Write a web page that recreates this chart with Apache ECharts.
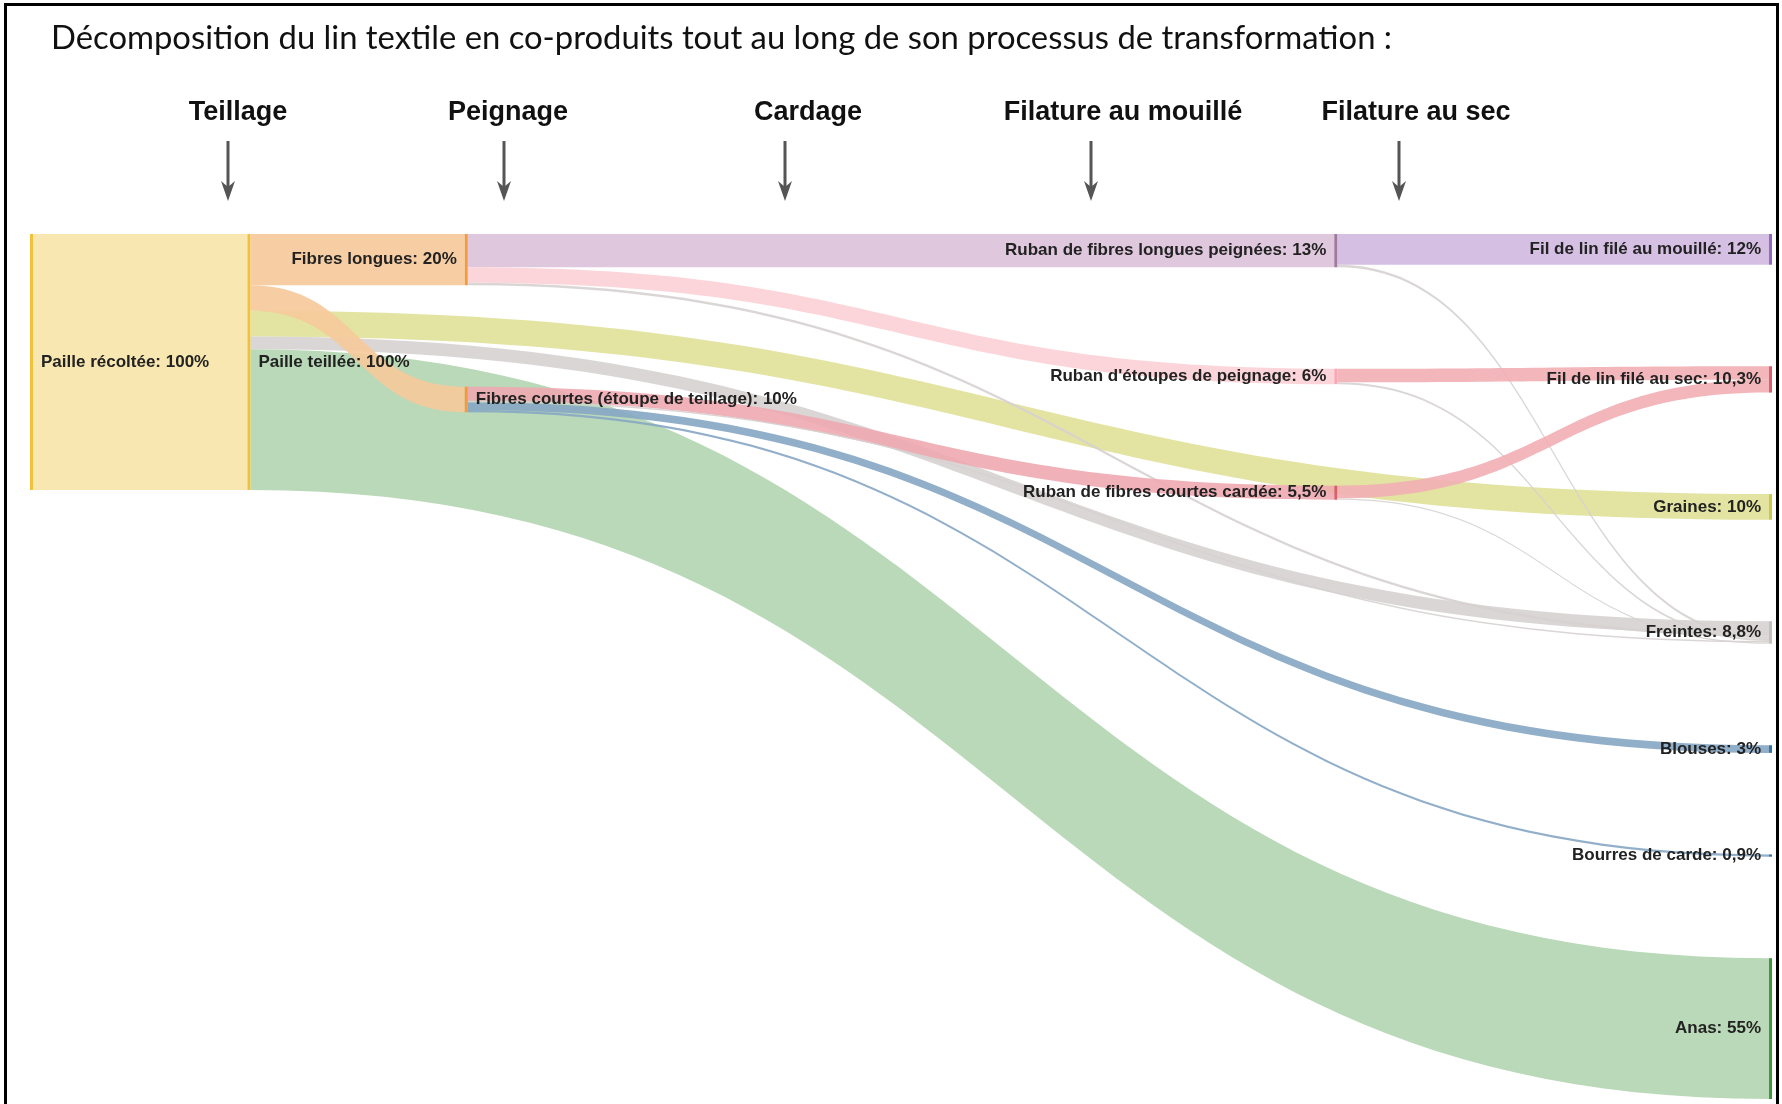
<!DOCTYPE html>
<html>
<head>
<meta charset="utf-8">
<script src="https://cdn.jsdelivr.net/npm/echarts@6/dist/echarts.min.js"></script>
<style>
  html, body { margin: 0; padding: 0; background: #fff; }
  #main { width: 1782px; height: 1104px; }
</style>
</head>
<body>
<div id="main"></div>
<script>
// noeuds du sankey (colonne = etape du processus)
var nodeNames = [
  'Paille récoltée', 'Paille teillée', 'Fibres longues',
  'Fibres courtes (étoupe de teillage)', 'Ruban de fibres longues peignées',
  "Ruban d'étoupes de peignage", 'Ruban de fibres courtes cardée',
  'Fil de lin filé au mouillé', 'Fil de lin filé au sec', 'Graines',
  'Freintes', 'Blouses', 'Bourres de carde', 'Anas'
];
var nodeValues = [100, 100, 20, 10, 13, 6, 5.5, 12, 10.3, 10, 8.8, 3, 0.9, 55];
var nodeDepths = [0, 1, 2, 2, 6, 6, 6, 8, 8, 8, 8, 8, 8, 8];

// flux (en % de la paille recoltee)
var linkSources = [
  'Paille récoltée',
  'Paille teillée', 'Paille teillée', 'Paille teillée', 'Paille teillée',
  'Fibres longues', 'Fibres longues', 'Fibres longues',
  'Fibres courtes (étoupe de teillage)', 'Fibres courtes (étoupe de teillage)',
  'Fibres courtes (étoupe de teillage)', 'Fibres courtes (étoupe de teillage)',
  'Ruban de fibres longues peignées', 'Ruban de fibres longues peignées',
  "Ruban d'étoupes de peignage", "Ruban d'étoupes de peignage",
  'Ruban de fibres courtes cardée', 'Ruban de fibres courtes cardée',
  'Paille teillée'
];
var linkTargets = [
  'Paille teillée',
  'Fibres longues', 'Graines', 'Freintes', 'Anas',
  'Ruban de fibres longues peignées', "Ruban d'étoupes de peignage", 'Freintes',
  'Ruban de fibres courtes cardée', 'Blouses', 'Bourres de carde', 'Freintes',
  'Fil de lin filé au mouillé', 'Freintes',
  'Fil de lin filé au sec', 'Freintes',
  'Fil de lin filé au sec', 'Freintes',
  'Fibres courtes (étoupe de teillage)'
];
var linkValues = [100, 20, 10, 5, 55, 13, 6, 1, 5.5, 3, 0.9, 0.6, 12, 1, 5.3, 0.7, 5, 0.5, 10];

var stages = ['Teillage', 'Peignage', 'Cardage', 'Filature au mouillé', 'Filature au sec'];

// styles
var stageX = [238, 508, 808, 1123, 1416];
var arrowX = [228, 504, 785, 1091, 1399];
var nodeColor = {
  'Paille récoltée': '#f0c23c', 'Paille teillée': '#f0c23c',
  'Fibres longues': '#f39a3c', 'Fibres courtes (étoupe de teillage)': '#f39a3c',
  'Ruban de fibres longues peignées': '#a07a9c', "Ruban d'étoupes de peignage": '#f7a8b4',
  'Ruban de fibres courtes cardée': '#d9606e', 'Fil de lin filé au mouillé': '#8e6ac0',
  'Fil de lin filé au sec': '#d9606e', 'Graines': '#c9c94a', 'Freintes': '#c4c0be',
  'Blouses': '#3a74a6', 'Bourres de carde': '#3a74a6', 'Anas': '#3c9a3c'
};
var flowColor = {
  'Paille teillée': '#f7e4a9', 'Fibres longues': '#f6c99a',
  'Fibres courtes (étoupe de teillage)': '#f6c99a',
  'Ruban de fibres longues peignées': '#dbc2da', "Ruban d'étoupes de peignage": '#fcd0d6',
  'Ruban de fibres courtes cardée': '#eea9b0', 'Fil de lin filé au mouillé': '#d0b8e0',
  'Fil de lin filé au sec': '#f1aeb4', 'Graines': '#e0e098', 'Freintes': '#d6d2d0',
  'Blouses': '#86a6c4', 'Bourres de carde': '#86a6c4', 'Anas': '#b3d5b0'
};
var rightLabels = ['Paille récoltée', 'Paille teillée', 'Fibres courtes (étoupe de teillage)'];

function fmt(v) {
  return String(Math.round(v * 10) / 10).replace('.', ',');
}

var nodes = nodeNames.map(function (name, i) {
  return {
    name: name,
    value: nodeValues[i],
    depth: nodeDepths[i],
    itemStyle: { color: nodeColor[name] },
    label: { position: rightLabels.indexOf(name) >= 0 ? 'right' : 'left' }
  };
});
var links = linkSources.map(function (s, i) {
  return {
    source: s,
    target: linkTargets[i],
    value: linkValues[i],
    lineStyle: { color: flowColor[linkTargets[i]] }
  };
});

var graphics = [{
  type: 'rect',
  shape: { x: 5.5, y: 4.5, width: 1772, height: 1120 },
  style: { fill: 'none', stroke: '#000', lineWidth: 3 },
  silent: true
}];
stages.forEach(function (s, i) {
  graphics.push({
    type: 'text', x: stageX[i], y: 113,
    style: { text: s, font: 'bold 27px "Liberation Sans", Arial, sans-serif',
      fill: '#111', textAlign: 'center', textVerticalAlign: 'middle' }
  });
  graphics.push({
    type: 'line', shape: { x1: arrowX[i], y1: 141, x2: arrowX[i], y2: 196 },
    style: { stroke: '#555', lineWidth: 3 }
  });
  graphics.push({
    type: 'polygon',
    shape: { points: [[arrowX[i], 201], [arrowX[i] - 7, 181], [arrowX[i], 187], [arrowX[i] + 7, 181]] },
    style: { fill: '#555' }
  });
});

var myChart = echarts.init(document.getElementById('main'));
var option = {
  animation: false,
  backgroundColor: '#fff',
  title: {
    text: 'Décomposition du lin textile en co-produits tout au long de son processus de transformation :',
    left: 46, top: 17,
    textStyle: { fontFamily: 'Lato', fontWeight: 'normal', fontSize: 32.8, color: '#111' }
  },
  graphic: graphics,
  series: [{
    type: 'sankey',
    left: 30, right: 10, top: 234, bottom: 5,
    nodeWidth: 3,
    nodeGap: 101.5,
    nodeAlign: 'left',
    layoutIterations: 0,
    draggable: false,
    emphasis: { disabled: true },
    data: nodes,
    links: links,
    lineStyle: { opacity: 0.9, curveness: 0.5 },
    label: {
      fontFamily: '"Liberation Sans", Arial, sans-serif',
      fontWeight: 'bold', fontSize: 17, color: '#222', distance: 8,
      formatter: function (p) { return p.name + ': ' + fmt(p.value) + '%'; }
    }
  }]
};
myChart.setOption(option);
</script>
</body>
</html>
